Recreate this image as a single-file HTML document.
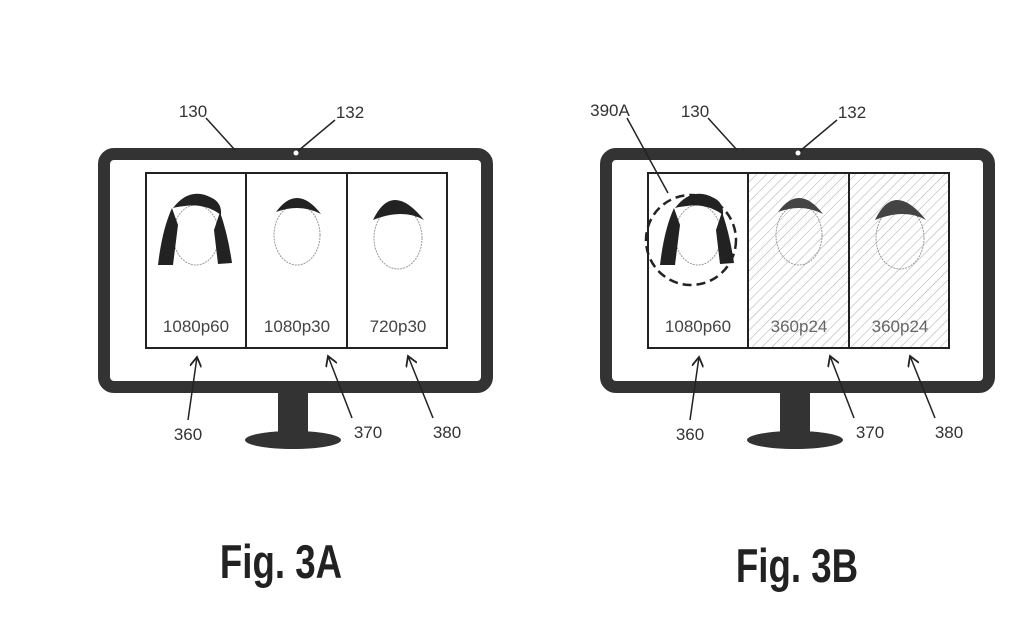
<!DOCTYPE html>
<html><head><style>body{margin:0;background:#fff}svg{display:block}</style></head><body>
<svg width="1024" height="622" viewBox="0 0 1024 622" xmlns="http://www.w3.org/2000/svg" font-family="Liberation Sans, sans-serif">
<defs>
<pattern id="h" width="7" height="7" patternUnits="userSpaceOnUse" patternTransform="rotate(45)">
<line x1="0" y1="0" x2="0" y2="7" stroke="#aaa" stroke-width="1"/></pattern>
<marker id="a" markerWidth="12" markerHeight="12" refX="10" refY="6" orient="auto" markerUnits="userSpaceOnUse">
<path d="M0,0 L10,6 L0,12" fill="none" stroke="#222" stroke-width="1.8"/></marker>
<g id="mon">
<rect x="104" y="154" width="383" height="233" rx="10" fill="#fff" stroke="#333" stroke-width="12"/>
<circle cx="296" cy="153" r="2.5" fill="#fff"/>
<rect x="278" y="393" width="30" height="40" fill="#333"/>
<ellipse cx="293" cy="440" rx="48" ry="9" fill="#333"/>
<line x1="206" y1="118" x2="235" y2="150" stroke="#222" stroke-width="1.5"/>
<line x1="335" y1="120" x2="298" y2="151" stroke="#222" stroke-width="1.5"/>
<text x="193" y="117" font-size="17" text-anchor="middle" fill="#333">130</text>
<text x="350" y="118" font-size="17" text-anchor="middle" fill="#333">132</text>
<line x1="188" y1="420" x2="197" y2="357" stroke="#222" stroke-width="1.5" marker-end="url(#a)"/>
<line x1="352" y1="418" x2="328" y2="356" stroke="#222" stroke-width="1.5" marker-end="url(#a)"/>
<line x1="433" y1="418" x2="408" y2="356" stroke="#222" stroke-width="1.5" marker-end="url(#a)"/>
<text x="188" y="440" font-size="17" text-anchor="middle" fill="#333">360</text>
<text x="368" y="438" font-size="17" text-anchor="middle" fill="#333">370</text>
<text x="447" y="438" font-size="17" text-anchor="middle" fill="#333">380</text>
</g>
</defs>
<use href="#mon"/>
<use href="#mon" x="502"/>
<rect x="146" y="173" width="301" height="175" fill="#fff" stroke="#222" stroke-width="2"/>
<line x1="246" y1="173" x2="246" y2="348" stroke="#222" stroke-width="2"/>
<line x1="347" y1="173" x2="347" y2="348" stroke="#222" stroke-width="2"/>
<rect x="648" y="173" width="301" height="175" fill="#fff"/>
<rect x="748" y="173" width="201" height="175" fill="url(#h)"/>
<rect x="648" y="173" width="301" height="175" fill="none" stroke="#222" stroke-width="2"/>
<line x1="748" y1="173" x2="748" y2="348" stroke="#222" stroke-width="2"/>
<line x1="849" y1="173" x2="849" y2="348" stroke="#222" stroke-width="2"/>
<g id="f1">
<ellipse cx="196" cy="235" rx="23" ry="30" fill="#fff" stroke="#999" stroke-width="1" stroke-dasharray="2 1"/>
<path d="M173,208 Q190,186 212,198 Q222,203 221,215 Q205,203 185,206 Q176,207 173,208 Z" fill="#222"/>
<path d="M172,208 Q162,230 158,265 L173,265 L178,225 Z" fill="#222"/>
<path d="M220,212 Q228,235 232,263 L218,264 L214,230 Z" fill="#222"/>
</g>
<g id="f2">
<ellipse cx="297" cy="235" rx="23" ry="30" fill="#fff" stroke="#999" stroke-width="1" stroke-dasharray="2 1"/>
<path d="M276,212 Q297,183 321,214 Q300,203 276,212 Z" fill="#222"/>
</g>
<g id="f3">
<ellipse cx="398" cy="238" rx="24" ry="31" fill="#fff" stroke="#999" stroke-width="1" stroke-dasharray="2 1"/>
<path d="M373,220 Q392,180 424,220 Q403,208 373,220 Z" fill="#222"/>
</g>
<use href="#f1" x="502"/>
<ellipse cx="799" cy="235" rx="23" ry="30" fill="none" stroke="#999" stroke-width="1" stroke-dasharray="2 1"/>
<path d="M778,212 Q799,183 823,214 Q802,203 778,212 Z" fill="#444"/>
<ellipse cx="900" cy="238" rx="24" ry="31" fill="none" stroke="#999" stroke-width="1" stroke-dasharray="2 1"/>
<path d="M875,220 Q894,180 926,220 Q905,208 875,220 Z" fill="#444"/>
<circle cx="691" cy="240" r="45" fill="none" stroke="#222" stroke-width="2.5" stroke-dasharray="9 5"/>
<line x1="627" y1="118" x2="668" y2="193" stroke="#222" stroke-width="1.5"/>
<text x="610" y="116" font-size="17" text-anchor="middle" fill="#333">390A</text>
<g font-size="17" fill="#444" text-anchor="middle">
<text x="196" y="332">1080p60</text><text x="297" y="332">1080p30</text><text x="398" y="332">720p30</text>
<text x="698" y="332">1080p60</text><text x="799" y="332" fill="#666">360p24</text><text x="900" y="332" fill="#666">360p24</text>
</g>
<g font-size="47" font-weight="bold" fill="#222" text-anchor="middle">
<text x="281" y="578" transform="translate(281 0) scale(0.78 1) translate(-281 0)">Fig. 3A</text>
<text x="797" y="582" transform="translate(797 0) scale(0.78 1) translate(-797 0)">Fig. 3B</text>
</g>
</svg>
</body></html>
